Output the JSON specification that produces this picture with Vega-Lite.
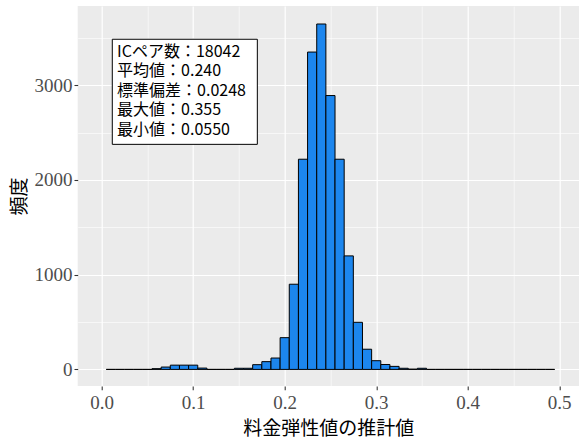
{
  "$schema": "https://vega.github.io/schema/vega-lite/v6.json",
  "width": 501.3,
  "height": 380,
  "autosize": {"type": "none"},
  "padding": {"left": 77.7, "top": 6, "right": 0, "bottom": 57},
  "background": "white",
  "config": {
    "view": {"fill": "#EBEBEB", "stroke": null},
    "axis": {
      "labelFont": "Liberation Serif",
      "labelFontSize": 19,
      "labelColor": "#4D4D4D",
      "titleFont": "Noto Sans CJK JP",
      "titleFontSize": 19,
      "titleFontWeight": "normal",
      "titleColor": "#000000",
      "tickColor": "#333333",
      "tickSize": 3.7,
      "tickWidth": 1.07,
      "domain": false,
      "gridColor": "#FFFFFF"
    }
  },
  "datasets": {
    "bins": [
      {"lo": 0.005, "hi": 0.015, "n": 0},
      {"lo": 0.015, "hi": 0.025, "n": 0},
      {"lo": 0.025, "hi": 0.035, "n": 0},
      {"lo": 0.035, "hi": 0.045, "n": 0},
      {"lo": 0.045, "hi": 0.055, "n": 0},
      {"lo": 0.055, "hi": 0.065, "n": 8},
      {"lo": 0.065, "hi": 0.075, "n": 25},
      {"lo": 0.075, "hi": 0.085, "n": 45},
      {"lo": 0.085, "hi": 0.095, "n": 45},
      {"lo": 0.095, "hi": 0.105, "n": 45},
      {"lo": 0.105, "hi": 0.115, "n": 14},
      {"lo": 0.115, "hi": 0.125, "n": 0},
      {"lo": 0.125, "hi": 0.135, "n": 0},
      {"lo": 0.135, "hi": 0.145, "n": 0},
      {"lo": 0.145, "hi": 0.155, "n": 12},
      {"lo": 0.155, "hi": 0.165, "n": 12},
      {"lo": 0.165, "hi": 0.175, "n": 50},
      {"lo": 0.175, "hi": 0.185, "n": 82},
      {"lo": 0.185, "hi": 0.195, "n": 120},
      {"lo": 0.195, "hi": 0.205, "n": 335},
      {"lo": 0.205, "hi": 0.215, "n": 899},
      {"lo": 0.215, "hi": 0.225, "n": 2218},
      {"lo": 0.225, "hi": 0.235, "n": 3349},
      {"lo": 0.235, "hi": 0.245, "n": 3645},
      {"lo": 0.245, "hi": 0.255, "n": 2890},
      {"lo": 0.255, "hi": 0.265, "n": 2218},
      {"lo": 0.265, "hi": 0.275, "n": 1198},
      {"lo": 0.275, "hi": 0.285, "n": 497},
      {"lo": 0.285, "hi": 0.295, "n": 213},
      {"lo": 0.295, "hi": 0.305, "n": 92},
      {"lo": 0.305, "hi": 0.315, "n": 52},
      {"lo": 0.315, "hi": 0.325, "n": 32},
      {"lo": 0.325, "hi": 0.335, "n": 12},
      {"lo": 0.335, "hi": 0.345, "n": 3},
      {"lo": 0.345, "hi": 0.355, "n": 12},
      {"lo": 0.355, "hi": 0.365, "n": 0},
      {"lo": 0.365, "hi": 0.375, "n": 0},
      {"lo": 0.375, "hi": 0.385, "n": 0},
      {"lo": 0.385, "hi": 0.395, "n": 0},
      {"lo": 0.395, "hi": 0.405, "n": 0},
      {"lo": 0.405, "hi": 0.415, "n": 0},
      {"lo": 0.415, "hi": 0.425, "n": 0},
      {"lo": 0.425, "hi": 0.435, "n": 0},
      {"lo": 0.435, "hi": 0.445, "n": 0},
      {"lo": 0.445, "hi": 0.455, "n": 0},
      {"lo": 0.455, "hi": 0.465, "n": 0},
      {"lo": 0.465, "hi": 0.475, "n": 0},
      {"lo": 0.475, "hi": 0.485, "n": 0},
      {"lo": 0.485, "hi": 0.495, "n": 0}
    ],
    "stats": [
      {"label": ["ICペア数：18042", "平均値：0.240", "標準偏差：0.0248", "最大値：0.355", "最小値：0.0550"]}
    ]
  },
  "layer": [
    {
      "data": {"name": "bins"},
      "mark": {"type": "rect", "fill": "#1C86EE", "stroke": "#000000", "strokeWidth": 1},
      "encoding": {
        "x": {
          "field": "lo", "type": "quantitative",
          "scale": {"domain": [-0.0262, 0.5216], "nice": false, "zero": false},
          "axis": {
            "orient": "bottom",
            "values": [0, 0.05, 0.1, 0.15, 0.2, 0.25, 0.3, 0.35, 0.4, 0.45, 0.5],
            "labelExpr": "round(datum.value * 100) % 10 == 0 ? format(datum.value, '.1f') : ''",
            "grid": true,
            "gridWidth": {"condition": {"test": "round(datum.value * 100) % 10 != 0", "value": 0.6}, "value": 1.2},
            "tickOpacity": {"condition": {"test": "round(datum.value * 100) % 10 != 0", "value": 0}, "value": 1},
            "labelPadding": 4,
            "title": "料金弾性値の推計値",
            "titlePadding": 7
          }
        },
        "x2": {"field": "hi"},
        "y": {
          "field": "n", "type": "quantitative",
          "scale": {"domain": [-175, 3835], "nice": false, "zero": false},
          "axis": {
            "orient": "left",
            "values": [0, 500, 1000, 1500, 2000, 2500, 3000, 3500],
            "labelExpr": "datum.value % 1000 == 0 ? format(datum.value, 'd') : ''",
            "grid": true,
            "gridWidth": {"condition": {"test": "datum.value % 1000 != 0", "value": 0.6}, "value": 1.2},
            "tickOpacity": {"condition": {"test": "datum.value % 1000 != 0", "value": 0}, "value": 1},
            "labelPadding": 2,
            "title": "頻度",
            "titlePadding": 4
          }
        },
        "y2": {"datum": 0}
      }
    },
    {
      "data": {"name": "stats"},
      "mark": {"type": "rect", "fill": "#FFFFFF", "stroke": "#000000", "strokeWidth": 1},
      "encoding": {
        "x": {"datum": 0.0116, "type": "quantitative"},
        "x2": {"datum": 0.1701},
        "y": {"datum": 3484, "type": "quantitative"},
        "y2": {"datum": 2375}
      }
    },
    {
      "data": {"name": "stats"},
      "mark": {"type": "text", "align": "left", "baseline": "alphabetic", "font": "Noto Sans CJK JP", "fontSize": 16, "lineHeight": 19.6, "color": "#000000"},
      "encoding": {
        "x": {"datum": 0.0168, "type": "quantitative"},
        "y": {"datum": 3300, "type": "quantitative"},
        "text": {"field": "label"}
      }
    }
  ]
}
